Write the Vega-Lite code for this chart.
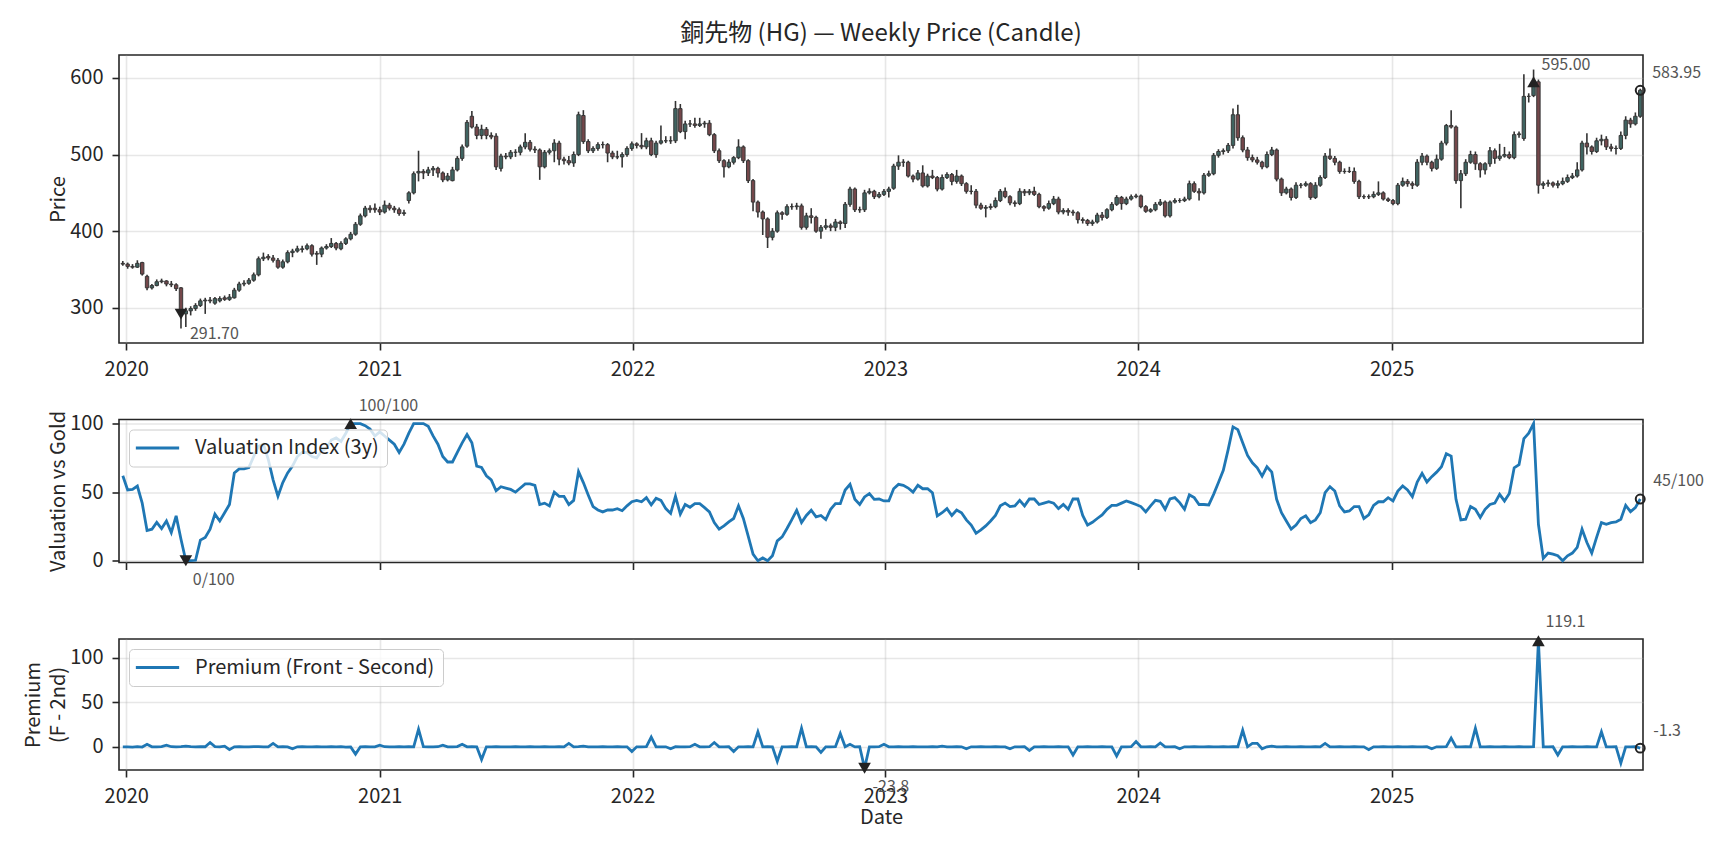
{
  "$schema": "https://vega.github.io/schema/vega-lite/v6.json",
  "padding": {"left": 22, "top": 20, "right": 10, "bottom": 5},
  "background": "white",
  "config": {
    "font": "Noto Sans CJK JP",
    "view": {"stroke": "#262626", "strokeWidth": 1.6},
    "axis": {
      "labelFont": "Noto Sans CJK JP", "labelFontSize": 20, "labelColor": "#262626",
      "titleFont": "Noto Sans CJK JP", "titleFontSize": 20, "titleFontWeight": "normal", "titleColor": "#262626",
      "tickColor": "#262626", "tickWidth": 1.6, "tickSize": 7, "labelPadding": 9,
      "domain": false, "gridColor": "#b0b0b0", "gridOpacity": 0.3, "gridWidth": 1.6, "titlePadding": 1.5
    },
    "legend": {
      "title": null, "orient": "top-left", "offset": 10, "padding": 8,
      "fillColor": "rgba(255,255,255,0.8)", "strokeColor": "#cccccc", "cornerRadius": 4,
      "symbolType": "M-2.5,0H2.5", "symbolSize": 300, "symbolStrokeWidth": 2.8, "symbolOffset": 10,
      "labelFont": "Noto Sans CJK JP", "labelFontSize": 20, "labelOffset": 27, "labelColor": "#262626", "labelLimit": 0
    },
    "title": {"font": "Noto Sans CJK JP", "fontSize": 24, "fontWeight": "normal", "color": "#262626", "offset": 9.5}
  },
  "datasets": {
    "weekly": [
      {"d":"2019-12-27","o":358,"h":361,"l":355,"c":357,"v":62,"p":0.2},
      {"d":"2020-01-03","o":357,"h":359,"l":351,"c":354,"v":51.6,"p":0.1},
      {"d":"2020-01-10","o":354,"h":357,"l":351,"c":353,"v":52,"p":-0.2},
      {"d":"2020-01-17","o":353,"h":362,"l":352,"c":358,"v":54.5,"p":0.3},
      {"d":"2020-01-24","o":359,"h":360,"l":342,"c":344,"v":42,"p":-0.1},
      {"d":"2020-01-31","o":341,"h":343,"l":323,"c":326,"v":22,"p":3},
      {"d":"2020-02-07","o":326,"h":331,"l":324,"c":329,"v":23,"p":0.2},
      {"d":"2020-02-14","o":329,"h":337,"l":328,"c":334,"v":28,"p":0.1},
      {"d":"2020-02-21","o":334,"h":338,"l":332,"c":335,"v":23.5,"p":0.4},
      {"d":"2020-02-28","o":335,"h":336,"l":328,"c":331,"v":29,"p":2},
      {"d":"2020-03-06","o":331,"h":335,"l":327,"c":330,"v":20.6,"p":0.3},
      {"d":"2020-03-13","o":330,"h":332,"l":322,"c":325,"v":32.7,"p":0.2},
      {"d":"2020-03-20","o":326,"h":327,"l":273,"c":291.7,"v":15.7,"p":0.5},
      {"d":"2020-03-27","o":292,"h":300,"l":275,"c":296,"v":0,"p":1},
      {"d":"2020-04-03","o":296,"h":302,"l":290,"c":299,"v":0,"p":0.3},
      {"d":"2020-04-10","o":299,"h":306,"l":296,"c":303,"v":0.3,"p":0.2},
      {"d":"2020-04-17","o":303,"h":312,"l":301,"c":309,"v":15,"p":0.4},
      {"d":"2020-04-24","o":309,"h":313,"l":292,"c":310,"v":17,"p":0.3},
      {"d":"2020-05-01","o":310,"h":314,"l":306,"c":309,"v":23,"p":5},
      {"d":"2020-05-08","o":306,"h":314,"l":304,"c":312,"v":34,"p":0.4},
      {"d":"2020-05-15","o":309,"h":315,"l":307,"c":312,"v":29,"p":0.2},
      {"d":"2020-05-22","o":313,"h":316,"l":309,"c":311,"v":35,"p":1},
      {"d":"2020-05-29","o":311,"h":318,"l":309,"c":314,"v":41,"p":-3},
      {"d":"2020-06-05","o":313,"h":326,"l":312,"c":323,"v":64,"p":0.2},
      {"d":"2020-06-12","o":323,"h":334,"l":321,"c":331,"v":67,"p":0.3},
      {"d":"2020-06-19","o":331,"h":336,"l":328,"c":332,"v":67,"p":0.1},
      {"d":"2020-06-26","o":332,"h":339,"l":330,"c":336,"v":68,"p":0.2},
      {"d":"2020-07-03","o":336,"h":346,"l":334,"c":343,"v":76,"p":0.4},
      {"d":"2020-07-10","o":343,"h":367,"l":341,"c":364,"v":83.5,"p":0.3},
      {"d":"2020-07-17","o":364,"h":372,"l":361,"c":366,"v":85,"p":0.2},
      {"d":"2020-07-24","o":367,"h":370,"l":362,"c":365,"v":74,"p":0.1},
      {"d":"2020-07-31","o":365,"h":369,"l":359,"c":362,"v":59,"p":4},
      {"d":"2020-08-07","o":362,"h":365,"l":351,"c":353,"v":47,"p":0.2},
      {"d":"2020-08-14","o":353,"h":363,"l":351,"c":360,"v":57,"p":0.3},
      {"d":"2020-08-21","o":360,"h":375,"l":358,"c":372,"v":64,"p":0.1},
      {"d":"2020-08-28","o":372,"h":377,"l":366,"c":374,"v":69,"p":-2},
      {"d":"2020-09-04","o":374,"h":381,"l":372,"c":377,"v":76,"p":0.2},
      {"d":"2020-09-11","o":376,"h":381,"l":372,"c":377,"v":79,"p":0.3},
      {"d":"2020-09-18","o":377,"h":384,"l":375,"c":381,"v":79,"p":0.1},
      {"d":"2020-09-25","o":381,"h":383,"l":367,"c":370,"v":76,"p":0.2},
      {"d":"2020-10-02","o":371,"h":374,"l":356,"c":370,"v":75,"p":0.4},
      {"d":"2020-10-09","o":370,"h":380,"l":366,"c":378,"v":80,"p":0.2},
      {"d":"2020-10-16","o":378,"h":383,"l":376,"c":380,"v":82,"p":0.1},
      {"d":"2020-10-23","o":380,"h":391,"l":378,"c":384,"v":88,"p":0.3},
      {"d":"2020-10-30","o":384,"h":386,"l":375,"c":378,"v":89.6,"p":0.2},
      {"d":"2020-11-06","o":377,"h":387,"l":375,"c":384,"v":87,"p":0.4},
      {"d":"2020-11-13","o":384,"h":392,"l":382,"c":390,"v":93,"p":-0.2},
      {"d":"2020-11-20","o":390,"h":399,"l":388,"c":396,"v":100,"p":0.1},
      {"d":"2020-11-27","o":396,"h":412,"l":394,"c":409,"v":100,"p":-8},
      {"d":"2020-12-04","o":409,"h":423,"l":407,"c":420,"v":100,"p":0.2},
      {"d":"2020-12-11","o":420,"h":433,"l":418,"c":430,"v":98.5,"p":0.3},
      {"d":"2020-12-18","o":430,"h":434,"l":424,"c":428,"v":96,"p":0.2},
      {"d":"2020-12-25","o":430,"h":436,"l":424,"c":428,"v":91,"p":0.1},
      {"d":"2021-01-01","o":428,"h":432,"l":421,"c":425,"v":94,"p":2},
      {"d":"2021-01-08","o":425,"h":440,"l":423,"c":434,"v":91,"p":0.3},
      {"d":"2021-01-15","o":434,"h":437,"l":427,"c":430,"v":88,"p":0.1},
      {"d":"2021-01-22","o":430,"h":433,"l":424,"c":428,"v":85,"p":0.2},
      {"d":"2021-01-29","o":428,"h":431,"l":420,"c":423,"v":79,"p":0.3},
      {"d":"2021-02-05","o":423,"h":428,"l":420,"c":424,"v":85,"p":0.1},
      {"d":"2021-02-12","o":440,"h":452,"l":436,"c":450,"v":93,"p":0.4},
      {"d":"2021-02-19","o":450,"h":478,"l":448,"c":475,"v":100,"p":0.2},
      {"d":"2021-02-26","o":476,"h":505,"l":465,"c":478,"v":100,"p":20},
      {"d":"2021-03-05","o":478,"h":481,"l":468,"c":476,"v":100,"p":0.3},
      {"d":"2021-03-12","o":476,"h":484,"l":472,"c":480,"v":98,"p":0.2},
      {"d":"2021-03-19","o":480,"h":485,"l":472,"c":482,"v":91,"p":0.1},
      {"d":"2021-03-26","o":482,"h":484,"l":470,"c":476,"v":85,"p":0.3},
      {"d":"2021-04-02","o":476,"h":478,"l":464,"c":467,"v":76,"p":2},
      {"d":"2021-04-09","o":467,"h":476,"l":465,"c":472,"v":72,"p":0.2},
      {"d":"2021-04-16","o":466,"h":484,"l":465,"c":480,"v":72,"p":0.1},
      {"d":"2021-04-23","o":480,"h":498,"l":478,"c":495,"v":79,"p":0.4},
      {"d":"2021-04-30","o":495,"h":513,"l":492,"c":510,"v":86,"p":3},
      {"d":"2021-05-07","o":511,"h":545,"l":509,"c":542,"v":92,"p":0.2},
      {"d":"2021-05-14","o":550,"h":557,"l":534,"c":536,"v":86,"p":0.3},
      {"d":"2021-05-21","o":536,"h":540,"l":520,"c":525,"v":69,"p":0.2},
      {"d":"2021-05-28","o":525,"h":539,"l":520,"c":533,"v":68,"p":-14},
      {"d":"2021-06-04","o":533,"h":536,"l":520,"c":525,"v":62,"p":0.2},
      {"d":"2021-06-11","o":525,"h":529,"l":520,"c":523,"v":59,"p":0.1},
      {"d":"2021-06-18","o":524,"h":528,"l":480,"c":484,"v":51,"p":0.3},
      {"d":"2021-06-25","o":482,"h":501,"l":478,"c":498,"v":54,"p":0.2},
      {"d":"2021-07-02","o":498,"h":502,"l":494,"c":497,"v":53,"p":0.1},
      {"d":"2021-07-09","o":497,"h":506,"l":494,"c":503,"v":52,"p":0.2},
      {"d":"2021-07-16","o":503,"h":507,"l":497,"c":503,"v":50,"p":0.3},
      {"d":"2021-07-23","o":503,"h":513,"l":499,"c":510,"v":53,"p":0.1},
      {"d":"2021-07-30","o":510,"h":528,"l":507,"c":516,"v":56,"p":0.2},
      {"d":"2021-08-06","o":516,"h":519,"l":504,"c":507,"v":56,"p":0.4},
      {"d":"2021-08-13","o":507,"h":511,"l":502,"c":506,"v":55,"p":0.1},
      {"d":"2021-08-20","o":506,"h":508,"l":467,"c":484,"v":41,"p":0.2},
      {"d":"2021-08-27","o":484,"h":506,"l":482,"c":503,"v":42,"p":0.3},
      {"d":"2021-09-03","o":503,"h":508,"l":500,"c":505,"v":40,"p":0.2},
      {"d":"2021-09-10","o":505,"h":520,"l":490,"c":515,"v":50,"p":0.1},
      {"d":"2021-09-17","o":515,"h":518,"l":486,"c":494,"v":47,"p":0.3},
      {"d":"2021-09-24","o":494,"h":497,"l":487,"c":492,"v":47,"p":0.2},
      {"d":"2021-10-01","o":492,"h":498,"l":486,"c":489,"v":41,"p":4},
      {"d":"2021-10-08","o":489,"h":504,"l":484,"c":500,"v":44,"p":0.2},
      {"d":"2021-10-15","o":500,"h":556,"l":498,"c":552,"v":65,"p":0.3},
      {"d":"2021-10-22","o":551,"h":558,"l":514,"c":517,"v":57,"p":1},
      {"d":"2021-10-29","o":517,"h":520,"l":502,"c":505,"v":48,"p":0.2},
      {"d":"2021-11-05","o":505,"h":511,"l":502,"c":508,"v":39.5,"p":0.1},
      {"d":"2021-11-12","o":508,"h":516,"l":505,"c":513,"v":37,"p":0.2},
      {"d":"2021-11-19","o":513,"h":517,"l":508,"c":513,"v":35.6,"p":0.3},
      {"d":"2021-11-26","o":513,"h":515,"l":490,"c":502,"v":37,"p":0.1},
      {"d":"2021-12-03","o":502,"h":505,"l":494,"c":497,"v":37,"p":0.2},
      {"d":"2021-12-10","o":497,"h":505,"l":494,"c":497,"v":38,"p":0.3},
      {"d":"2021-12-17","o":497,"h":503,"l":483,"c":500,"v":36.5,"p":0.1},
      {"d":"2021-12-24","o":500,"h":511,"l":497,"c":508,"v":40,"p":0.2},
      {"d":"2021-12-31","o":508,"h":517,"l":505,"c":514,"v":43,"p":-5},
      {"d":"2022-01-07","o":514,"h":516,"l":508,"c":512,"v":44,"p":0.2},
      {"d":"2022-01-14","o":512,"h":528,"l":507,"c":510,"v":43,"p":0.1},
      {"d":"2022-01-21","o":510,"h":522,"l":507,"c":518,"v":46,"p":0.3},
      {"d":"2022-01-28","o":518,"h":522,"l":498,"c":500,"v":40.7,"p":11},
      {"d":"2022-02-04","o":500,"h":518,"l":496,"c":515,"v":45.5,"p":0.2},
      {"d":"2022-02-11","o":515,"h":538,"l":513,"c":518,"v":44,"p":0.1},
      {"d":"2022-02-18","o":518,"h":524,"l":515,"c":518,"v":38,"p":0.2},
      {"d":"2022-02-25","o":518,"h":524,"l":514,"c":518,"v":34.6,"p":-2},
      {"d":"2022-03-04","o":518,"h":570,"l":515,"c":560,"v":47,"p":0.3},
      {"d":"2022-03-11","o":560,"h":566,"l":528,"c":530,"v":34,"p":0.2},
      {"d":"2022-03-18","o":530,"h":544,"l":520,"c":540,"v":41,"p":0.1},
      {"d":"2022-03-25","o":540,"h":545,"l":536,"c":540,"v":39,"p":0.3},
      {"d":"2022-04-01","o":540,"h":548,"l":535,"c":538,"v":41.6,"p":3},
      {"d":"2022-04-08","o":538,"h":548,"l":536,"c":540,"v":41.6,"p":0.2},
      {"d":"2022-04-15","o":540,"h":544,"l":535,"c":541,"v":38.7,"p":0.1},
      {"d":"2022-04-22","o":541,"h":545,"l":524,"c":526,"v":35.6,"p":0.3},
      {"d":"2022-04-29","o":526,"h":528,"l":502,"c":505,"v":27.8,"p":5},
      {"d":"2022-05-06","o":505,"h":508,"l":489,"c":492,"v":23,"p":0.2},
      {"d":"2022-05-13","o":492,"h":494,"l":470,"c":484,"v":25.4,"p":0.1},
      {"d":"2022-05-20","o":484,"h":494,"l":482,"c":490,"v":28.3,"p":0.3},
      {"d":"2022-05-27","o":490,"h":498,"l":487,"c":496,"v":30.8,"p":-5},
      {"d":"2022-06-03","o":496,"h":520,"l":494,"c":510,"v":40,"p":0.2},
      {"d":"2022-06-10","o":510,"h":512,"l":489,"c":492,"v":30.8,"p":0.1},
      {"d":"2022-06-17","o":492,"h":494,"l":463,"c":466,"v":18,"p":0.3},
      {"d":"2022-06-24","o":466,"h":468,"l":426,"c":438,"v":4.8,"p":0.2},
      {"d":"2022-07-01","o":438,"h":440,"l":418,"c":425,"v":0,"p":17},
      {"d":"2022-07-08","o":425,"h":427,"l":395,"c":416,"v":2,"p":0.1},
      {"d":"2022-07-15","o":416,"h":418,"l":378,"c":392,"v":0,"p":0.3},
      {"d":"2022-07-22","o":392,"h":404,"l":388,"c":400,"v":3.6,"p":0.2},
      {"d":"2022-07-29","o":400,"h":427,"l":398,"c":424,"v":14.5,"p":-16},
      {"d":"2022-08-05","o":424,"h":426,"l":415,"c":422,"v":17.4,"p":0.2},
      {"d":"2022-08-12","o":422,"h":435,"l":420,"c":432,"v":23.5,"p":0.1},
      {"d":"2022-08-19","o":432,"h":436,"l":428,"c":432,"v":30,"p":0.3},
      {"d":"2022-08-26","o":432,"h":437,"l":428,"c":433,"v":36.8,"p":0.2},
      {"d":"2022-09-02","o":433,"h":436,"l":402,"c":405,"v":27.8,"p":21},
      {"d":"2022-09-09","o":405,"h":424,"l":402,"c":420,"v":33,"p":0.2},
      {"d":"2022-09-16","o":420,"h":430,"l":410,"c":418,"v":36.8,"p":0.3},
      {"d":"2022-09-23","o":418,"h":420,"l":398,"c":400,"v":32,"p":0.1},
      {"d":"2022-09-30","o":400,"h":408,"l":390,"c":405,"v":33,"p":-6},
      {"d":"2022-10-07","o":405,"h":416,"l":402,"c":407,"v":30,"p":0.2},
      {"d":"2022-10-14","o":407,"h":410,"l":400,"c":405,"v":37.5,"p":0.1},
      {"d":"2022-10-21","o":405,"h":416,"l":400,"c":412,"v":41.6,"p":0.3},
      {"d":"2022-10-28","o":412,"h":414,"l":402,"c":410,"v":41.6,"p":15},
      {"d":"2022-11-04","o":410,"h":438,"l":404,"c":435,"v":51.6,"p":0.2},
      {"d":"2022-11-11","o":435,"h":458,"l":432,"c":455,"v":55.7,"p":3},
      {"d":"2022-11-18","o":455,"h":457,"l":425,"c":428,"v":44.8,"p":0.1},
      {"d":"2022-11-25","o":428,"h":432,"l":424,"c":428,"v":41,"p":0.3},
      {"d":"2022-12-02","o":428,"h":454,"l":425,"c":450,"v":46.5,"p":-23.8},
      {"d":"2022-12-09","o":450,"h":456,"l":448,"c":452,"v":49,"p":0.2},
      {"d":"2022-12-16","o":452,"h":454,"l":442,"c":445,"v":44.8,"p":0.1},
      {"d":"2022-12-23","o":445,"h":451,"l":443,"c":448,"v":45,"p":0.3},
      {"d":"2022-12-30","o":448,"h":455,"l":446,"c":452,"v":43.6,"p":3},
      {"d":"2023-01-06","o":452,"h":458,"l":444,"c":455,"v":43.6,"p":0.2},
      {"d":"2023-01-13","o":456,"h":488,"l":454,"c":485,"v":52.5,"p":0.1},
      {"d":"2023-01-20","o":485,"h":499,"l":480,"c":490,"v":55.7,"p":0.3},
      {"d":"2023-01-27","o":490,"h":494,"l":484,"c":490,"v":55,"p":0.2},
      {"d":"2023-02-03","o":490,"h":492,"l":470,"c":472,"v":53,"p":0.1},
      {"d":"2023-02-10","o":472,"h":474,"l":464,"c":468,"v":50,"p":0.3},
      {"d":"2023-02-17","o":468,"h":480,"l":466,"c":476,"v":55,"p":0.2},
      {"d":"2023-02-24","o":476,"h":486,"l":457,"c":459,"v":52.5,"p":0.1},
      {"d":"2023-03-03","o":459,"h":475,"l":457,"c":472,"v":52.5,"p":0.2},
      {"d":"2023-03-10","o":472,"h":480,"l":468,"c":470,"v":49.6,"p":0.3},
      {"d":"2023-03-17","o":470,"h":472,"l":452,"c":455,"v":32.7,"p":0.1},
      {"d":"2023-03-24","o":455,"h":474,"l":453,"c":470,"v":35,"p":1},
      {"d":"2023-03-31","o":470,"h":477,"l":468,"c":474,"v":38,"p":0.2},
      {"d":"2023-04-07","o":474,"h":476,"l":460,"c":465,"v":33,"p":0.1},
      {"d":"2023-04-14","o":465,"h":480,"l":462,"c":472,"v":37,"p":0.3},
      {"d":"2023-04-21","o":472,"h":474,"l":459,"c":462,"v":35,"p":0.2},
      {"d":"2023-04-28","o":462,"h":464,"l":449,"c":452,"v":29.8,"p":-2},
      {"d":"2023-05-05","o":452,"h":460,"l":448,"c":452,"v":26,"p":0.2},
      {"d":"2023-05-12","o":452,"h":455,"l":430,"c":434,"v":20,"p":0.1},
      {"d":"2023-05-19","o":434,"h":437,"l":428,"c":430,"v":22.5,"p":0.3},
      {"d":"2023-05-26","o":430,"h":434,"l":418,"c":431,"v":25.4,"p":0.2},
      {"d":"2023-06-02","o":431,"h":436,"l":428,"c":432,"v":29,"p":0.1},
      {"d":"2023-06-09","o":432,"h":444,"l":430,"c":440,"v":33,"p":0.3},
      {"d":"2023-06-16","o":440,"h":455,"l":438,"c":452,"v":40,"p":0.2},
      {"d":"2023-06-23","o":452,"h":457,"l":443,"c":445,"v":42,"p":0.1},
      {"d":"2023-06-30","o":445,"h":447,"l":434,"c":437,"v":39.5,"p":-2},
      {"d":"2023-07-07","o":437,"h":440,"l":432,"c":436,"v":40,"p":0.2},
      {"d":"2023-07-14","o":436,"h":456,"l":434,"c":452,"v":44,"p":0.1},
      {"d":"2023-07-21","o":452,"h":455,"l":446,"c":450,"v":40,"p":0.3},
      {"d":"2023-07-28","o":450,"h":455,"l":447,"c":452,"v":45,"p":-4},
      {"d":"2023-08-04","o":452,"h":458,"l":446,"c":448,"v":45,"p":0.2},
      {"d":"2023-08-11","o":448,"h":450,"l":430,"c":432,"v":41,"p":0.1},
      {"d":"2023-08-18","o":432,"h":434,"l":426,"c":430,"v":42,"p":0.3},
      {"d":"2023-08-25","o":430,"h":440,"l":428,"c":436,"v":43,"p":0.2},
      {"d":"2023-09-01","o":436,"h":446,"l":434,"c":442,"v":42,"p":0.1},
      {"d":"2023-09-08","o":442,"h":445,"l":422,"c":425,"v":38,"p":0.3},
      {"d":"2023-09-15","o":425,"h":430,"l":422,"c":427,"v":41,"p":0.2},
      {"d":"2023-09-22","o":427,"h":430,"l":420,"c":425,"v":37.5,"p":0.1},
      {"d":"2023-09-29","o":425,"h":428,"l":420,"c":424,"v":45,"p":-9},
      {"d":"2023-10-06","o":424,"h":426,"l":410,"c":415,"v":45,"p":0.2},
      {"d":"2023-10-13","o":415,"h":418,"l":410,"c":414,"v":33,"p":0.1},
      {"d":"2023-10-20","o":414,"h":416,"l":407,"c":410,"v":26,"p":0.3},
      {"d":"2023-10-27","o":410,"h":415,"l":407,"c":412,"v":28,"p":0.2},
      {"d":"2023-11-03","o":412,"h":424,"l":410,"c":421,"v":30.8,"p":0.1},
      {"d":"2023-11-10","o":421,"h":425,"l":414,"c":418,"v":33.4,"p":0.3},
      {"d":"2023-11-17","o":418,"h":430,"l":416,"c":428,"v":37.5,"p":0.2},
      {"d":"2023-11-24","o":428,"h":438,"l":426,"c":435,"v":40.4,"p":0.1},
      {"d":"2023-12-01","o":435,"h":447,"l":433,"c":444,"v":40.4,"p":-10},
      {"d":"2023-12-08","o":444,"h":446,"l":428,"c":436,"v":42,"p":0.2},
      {"d":"2023-12-15","o":436,"h":445,"l":434,"c":442,"v":43.6,"p":0.1},
      {"d":"2023-12-22","o":442,"h":448,"l":440,"c":445,"v":42.4,"p":0.3},
      {"d":"2023-12-29","o":445,"h":449,"l":443,"c":446,"v":41,"p":6},
      {"d":"2024-01-05","o":446,"h":448,"l":430,"c":432,"v":39.5,"p":0.2},
      {"d":"2024-01-12","o":432,"h":434,"l":424,"c":426,"v":35.6,"p":0.1},
      {"d":"2024-01-19","o":426,"h":430,"l":424,"c":428,"v":40,"p":0.3},
      {"d":"2024-01-26","o":428,"h":438,"l":426,"c":435,"v":44,"p":0.2},
      {"d":"2024-02-02","o":435,"h":442,"l":433,"c":438,"v":43.3,"p":4.5},
      {"d":"2024-02-09","o":438,"h":440,"l":418,"c":420,"v":37.5,"p":0.2},
      {"d":"2024-02-16","o":420,"h":440,"l":418,"c":438,"v":45,"p":0.1},
      {"d":"2024-02-23","o":438,"h":443,"l":436,"c":440,"v":46,"p":0.3},
      {"d":"2024-03-01","o":440,"h":443,"l":437,"c":440,"v":42.4,"p":-2},
      {"d":"2024-03-08","o":440,"h":445,"l":438,"c":442,"v":37.5,"p":0.2},
      {"d":"2024-03-15","o":442,"h":466,"l":440,"c":462,"v":48,"p":0.1},
      {"d":"2024-03-22","o":462,"h":465,"l":450,"c":452,"v":46,"p":0.3},
      {"d":"2024-03-29","o":452,"h":456,"l":440,"c":450,"v":41,"p":0.2},
      {"d":"2024-04-05","o":450,"h":476,"l":448,"c":473,"v":41,"p":0.1},
      {"d":"2024-04-12","o":473,"h":479,"l":471,"c":475,"v":40.7,"p":0.3},
      {"d":"2024-04-19","o":475,"h":502,"l":473,"c":499,"v":48.4,"p":0.2},
      {"d":"2024-04-26","o":499,"h":507,"l":496,"c":504,"v":57,"p":0.1},
      {"d":"2024-05-03","o":504,"h":508,"l":500,"c":505,"v":66,"p":0.3},
      {"d":"2024-05-10","o":505,"h":515,"l":502,"c":512,"v":81,"p":0.2},
      {"d":"2024-05-17","o":512,"h":560,"l":508,"c":552,"v":97.6,"p":0.4},
      {"d":"2024-05-24","o":552,"h":565,"l":518,"c":522,"v":95.6,"p":0.3},
      {"d":"2024-05-31","o":522,"h":525,"l":503,"c":506,"v":86,"p":18.7},
      {"d":"2024-06-07","o":506,"h":510,"l":492,"c":496,"v":76.8,"p":0.2},
      {"d":"2024-06-14","o":496,"h":500,"l":490,"c":493,"v":71.4,"p":4},
      {"d":"2024-06-21","o":493,"h":497,"l":487,"c":490,"v":67.8,"p":4},
      {"d":"2024-06-28","o":490,"h":492,"l":481,"c":484,"v":61.7,"p":-2},
      {"d":"2024-07-05","o":484,"h":504,"l":482,"c":500,"v":68.5,"p":0.2},
      {"d":"2024-07-12","o":500,"h":510,"l":498,"c":506,"v":64.6,"p":1},
      {"d":"2024-07-19","o":506,"h":508,"l":465,"c":468,"v":44.8,"p":0.2},
      {"d":"2024-07-26","o":468,"h":470,"l":446,"c":450,"v":35,"p":0.1},
      {"d":"2024-08-02","o":450,"h":458,"l":448,"c":455,"v":29,"p":0.3},
      {"d":"2024-08-09","o":455,"h":457,"l":440,"c":444,"v":23,"p":0.2},
      {"d":"2024-08-16","o":444,"h":464,"l":442,"c":460,"v":26,"p":0.1},
      {"d":"2024-08-23","o":460,"h":463,"l":456,"c":460,"v":30.8,"p":0.3},
      {"d":"2024-08-30","o":460,"h":465,"l":458,"c":462,"v":32.7,"p":0.2},
      {"d":"2024-09-06","o":462,"h":464,"l":441,"c":444,"v":27.8,"p":0.1},
      {"d":"2024-09-13","o":444,"h":464,"l":442,"c":460,"v":29.8,"p":0.3},
      {"d":"2024-09-20","o":460,"h":473,"l":458,"c":470,"v":35,"p":0.2},
      {"d":"2024-09-27","o":470,"h":502,"l":468,"c":498,"v":49.6,"p":4},
      {"d":"2024-10-04","o":498,"h":508,"l":493,"c":495,"v":54,"p":0.2},
      {"d":"2024-10-11","o":495,"h":498,"l":486,"c":490,"v":50.8,"p":0.1},
      {"d":"2024-10-18","o":490,"h":492,"l":475,"c":478,"v":40,"p":0.3},
      {"d":"2024-10-25","o":478,"h":482,"l":475,"c":478,"v":35.6,"p":0.2},
      {"d":"2024-11-01","o":478,"h":484,"l":476,"c":478,"v":36.3,"p":0.1},
      {"d":"2024-11-08","o":478,"h":483,"l":462,"c":465,"v":39.5,"p":0.3},
      {"d":"2024-11-15","o":465,"h":467,"l":442,"c":445,"v":39.5,"p":0.2},
      {"d":"2024-11-22","o":445,"h":448,"l":442,"c":445,"v":30.8,"p":0.1},
      {"d":"2024-11-29","o":445,"h":448,"l":442,"c":445,"v":33.4,"p":-3},
      {"d":"2024-12-06","o":445,"h":452,"l":443,"c":448,"v":40.4,"p":0.2},
      {"d":"2024-12-13","o":448,"h":465,"l":446,"c":450,"v":43,"p":0.1},
      {"d":"2024-12-20","o":450,"h":452,"l":440,"c":442,"v":43,"p":0.3},
      {"d":"2024-12-27","o":442,"h":444,"l":438,"c":440,"v":46,"p":0.2},
      {"d":"2025-01-03","o":440,"h":442,"l":434,"c":436,"v":43.6,"p":0.1},
      {"d":"2025-01-10","o":436,"h":463,"l":434,"c":460,"v":50.8,"p":0.3},
      {"d":"2025-01-17","o":460,"h":470,"l":458,"c":465,"v":54.5,"p":0.2},
      {"d":"2025-01-24","o":465,"h":468,"l":458,"c":462,"v":51.6,"p":0.1},
      {"d":"2025-01-31","o":462,"h":465,"l":455,"c":460,"v":46.7,"p":0.3},
      {"d":"2025-02-07","o":460,"h":494,"l":458,"c":490,"v":57.4,"p":0.2},
      {"d":"2025-02-14","o":490,"h":502,"l":486,"c":498,"v":63.7,"p":0.1},
      {"d":"2025-02-21","o":498,"h":500,"l":486,"c":490,"v":57.4,"p":0.3},
      {"d":"2025-02-28","o":490,"h":492,"l":478,"c":482,"v":61.3,"p":-2},
      {"d":"2025-03-07","o":482,"h":500,"l":480,"c":494,"v":64.6,"p":0.2},
      {"d":"2025-03-14","o":494,"h":518,"l":492,"c":515,"v":68.5,"p":0.1},
      {"d":"2025-03-21","o":515,"h":540,"l":512,"c":538,"v":78,"p":0.3},
      {"d":"2025-03-28","o":538,"h":558,"l":534,"c":536,"v":76.3,"p":10},
      {"d":"2025-04-04","o":536,"h":538,"l":462,"c":466,"v":44.8,"p":0.2},
      {"d":"2025-04-11","o":466,"h":480,"l":430,"c":475,"v":29.8,"p":0.1},
      {"d":"2025-04-18","o":475,"h":494,"l":472,"c":490,"v":30.3,"p":0.3},
      {"d":"2025-04-25","o":490,"h":505,"l":488,"c":500,"v":39.5,"p":0.2},
      {"d":"2025-05-02","o":500,"h":504,"l":480,"c":488,"v":37.5,"p":21},
      {"d":"2025-05-09","o":488,"h":490,"l":470,"c":480,"v":31.5,"p":0.2},
      {"d":"2025-05-16","o":480,"h":490,"l":474,"c":488,"v":37.5,"p":0.1},
      {"d":"2025-05-23","o":488,"h":510,"l":484,"c":505,"v":41,"p":0.3},
      {"d":"2025-05-30","o":505,"h":508,"l":488,"c":495,"v":42,"p":0.2},
      {"d":"2025-06-06","o":495,"h":514,"l":492,"c":498,"v":48.4,"p":0.1},
      {"d":"2025-06-13","o":498,"h":510,"l":496,"c":500,"v":43.6,"p":0.3},
      {"d":"2025-06-20","o":500,"h":504,"l":494,"c":496,"v":49,"p":0.2},
      {"d":"2025-06-27","o":496,"h":530,"l":494,"c":526,"v":67.8,"p":0.1},
      {"d":"2025-07-04","o":526,"h":530,"l":522,"c":527,"v":70,"p":0.3},
      {"d":"2025-07-11","o":521,"h":605,"l":518,"c":576,"v":89,"p":0.2},
      {"d":"2025-07-18","o":576,"h":580,"l":568,"c":576,"v":93,"p":0.1},
      {"d":"2025-07-25","o":577,"h":611,"l":575,"c":595,"v":100,"p":0.3},
      {"d":"2025-08-01","o":595,"h":598,"l":449,"c":460,"v":26.6,"p":119.1},
      {"d":"2025-08-08","o":460,"h":465,"l":455,"c":462,"v":1.7,"p":0.2},
      {"d":"2025-08-15","o":462,"h":467,"l":458,"c":463,"v":5.6,"p":0.1},
      {"d":"2025-08-22","o":463,"h":465,"l":457,"c":460,"v":4.8,"p":0.3},
      {"d":"2025-08-29","o":460,"h":466,"l":456,"c":462,"v":3.6,"p":-9},
      {"d":"2025-09-05","o":462,"h":470,"l":460,"c":465,"v":0,"p":0.2},
      {"d":"2025-09-12","o":465,"h":474,"l":463,"c":470,"v":3.6,"p":0.1},
      {"d":"2025-09-19","o":470,"h":476,"l":468,"c":472,"v":5.6,"p":0.3},
      {"d":"2025-09-26","o":472,"h":490,"l":470,"c":480,"v":9.7,"p":0.2},
      {"d":"2025-10-03","o":480,"h":518,"l":478,"c":515,"v":23,"p":0.1},
      {"d":"2025-10-10","o":515,"h":528,"l":500,"c":510,"v":13.3,"p":0.3},
      {"d":"2025-10-17","o":510,"h":512,"l":500,"c":504,"v":5.6,"p":0.2},
      {"d":"2025-10-24","o":504,"h":522,"l":502,"c":518,"v":17,"p":0.1},
      {"d":"2025-10-31","o":518,"h":526,"l":512,"c":520,"v":27.8,"p":17},
      {"d":"2025-11-07","o":520,"h":524,"l":506,"c":510,"v":26.6,"p":0.2},
      {"d":"2025-11-14","o":510,"h":514,"l":504,"c":508,"v":27.8,"p":0.1},
      {"d":"2025-11-21","o":508,"h":512,"l":500,"c":508,"v":28.3,"p":0.3},
      {"d":"2025-11-28","o":508,"h":530,"l":506,"c":525,"v":30.3,"p":-18},
      {"d":"2025-12-05","o":525,"h":550,"l":520,"c":545,"v":40.4,"p":0.2},
      {"d":"2025-12-12","o":545,"h":548,"l":535,"c":540,"v":35.8,"p":0.1},
      {"d":"2025-12-19","o":540,"h":555,"l":538,"c":550,"v":38.7,"p":0.3},
      {"d":"2025-12-26","o":550,"h":586,"l":548,"c":583.95,"v":45,"p":-1.3}
    ],
    "notes": [
      {"panel":"price","kind":"min","d":"2020-03-20","y":291.7,"label":"291.70"},
      {"panel":"price","kind":"max","d":"2025-07-25","y":595,"label":"595.00"},
      {"panel":"price","kind":"last","d":"2025-12-26","y":583.95,"label":"583.95"},
      {"panel":"val","kind":"max","d":"2020-11-20","y":100,"label":"100/100"},
      {"panel":"val","kind":"min","d":"2020-03-27","y":0,"label":"0/100"},
      {"panel":"val","kind":"last","d":"2025-12-26","y":45,"label":"45/100"},
      {"panel":"prem","kind":"max","d":"2025-08-01","y":119.1,"label":"119.1"},
      {"panel":"prem","kind":"min","d":"2022-12-02","y":-23.8,"label":"-23.8"},
      {"panel":"prem","kind":"last","d":"2025-12-26","y":-1.3,"label":"-1.3"}
    ],
    "levels": [{"lvl": 15}, {"lvl": 75}]
  },
  "bounds": "flush",
  "spacing": 76.5,
  "resolve": {"scale": {"x": "independent", "y": "independent", "color": "independent"}},
  "vconcat": [
    {
      "title": "銅先物 (HG) — Weekly Price (Candle)",
      "width": 1524,
      "height": 288,
      "encoding": {
        "x": {
          "field": "d", "type": "temporal",
          "scale": {"domain": ["2019-12-21T12:00:00", "2025-12-30T00:00:00"], "nice": false, "padding": 0},
          "axis": {"format": "%Y", "tickCount": "year", "title": null, "grid": true}
        }
      },
      "layer": [
        {
          "data": {"name": "weekly"},
          "mark": {"type": "rule", "color": "#333333", "strokeWidth": 1.6},
          "encoding": {
            "y": {"field": "l", "type": "quantitative", "title": "Price",
                  "scale": {"domain": [254, 630], "nice": false, "zero": false},
                  "axis": {"values": [300, 400, 500, 600]}},
            "y2": {"field": "h"}
          }
        },
        {
          "data": {"name": "weekly"},
          "mark": {"type": "bar", "width": 3.4, "stroke": "#383838", "strokeWidth": 1},
          "encoding": {
            "y": {"field": "o", "type": "quantitative", "title": "Price"},
            "y2": {"field": "c"},
            "fill": {"condition": {"test": "datum.c >= datum.o", "value": "#3f6461"}, "value": "#74474a"}
          }
        },
        {
          "data": {"name": "notes"},
          "transform": [{"filter": "datum.panel == 'price' && datum.kind == 'min'"}],
          "mark": {"type": "point", "shape": "triangle-down", "filled": true, "color": "#222222", "size": 160, "opacity": 1},
          "encoding": {"y": {"field": "y", "type": "quantitative", "title": "Price"}}
        },
        {
          "data": {"name": "notes"},
          "transform": [{"filter": "datum.panel == 'price' && datum.kind == 'max'"}],
          "mark": {"type": "point", "shape": "triangle-up", "filled": true, "color": "#222222", "size": 160, "opacity": 1},
          "encoding": {"y": {"field": "y", "type": "quantitative", "title": "Price"}}
        },
        {
          "data": {"name": "notes"},
          "transform": [{"filter": "datum.panel == 'price' && datum.kind == 'last'"}],
          "mark": {"type": "point", "shape": "circle", "filled": false, "stroke": "#222222", "strokeWidth": 2, "size": 80, "opacity": 1},
          "encoding": {"y": {"field": "y", "type": "quantitative", "title": "Price"}}
        },
        {
          "data": {"name": "notes"},
          "transform": [{"filter": "datum.panel == 'price' && datum.kind == 'min'"}],
          "mark": {"type": "text", "align": "left", "baseline": "middle", "dx": 9, "dy": 20, "fontSize": 16, "color": "#555555"},
          "encoding": {"y": {"field": "y", "type": "quantitative", "title": "Price"}, "text": {"field": "label"}}
        },
        {
          "data": {"name": "notes"},
          "transform": [{"filter": "datum.panel == 'price' && datum.kind == 'max'"}],
          "mark": {"type": "text", "align": "left", "baseline": "middle", "dx": 8, "dy": -17, "fontSize": 16, "color": "#555555"},
          "encoding": {"y": {"field": "y", "type": "quantitative", "title": "Price"}, "text": {"field": "label"}}
        },
        {
          "data": {"name": "notes"},
          "transform": [{"filter": "datum.panel == 'price' && datum.kind == 'last'"}],
          "mark": {"type": "text", "align": "left", "baseline": "middle", "dx": 12, "dy": -17, "fontSize": 16, "color": "#555555"},
          "encoding": {"y": {"field": "y", "type": "quantitative", "title": "Price"}, "text": {"field": "label"}}
        }
      ]
    },
    {
      "width": 1524,
      "height": 143,
      "encoding": {
        "x": {
          "field": "d", "type": "temporal",
          "scale": {"domain": ["2019-12-21T12:00:00", "2025-12-30T00:00:00"], "nice": false, "padding": 0},
          "axis": {"format": "%Y", "tickCount": "year", "title": null, "labels": false, "grid": true}
        }
      },
      "layer": [
        {
          "data": {"name": "levels"},
          "mark": {"type": "rule", "color": "#808080", "strokeDash": [7.4, 3.2], "strokeWidth": 2, "opacity": 0.85},
          "encoding": {
            "y": {"field": "lvl", "type": "quantitative", "title": "Valuation vs Gold",
                  "scale": {"domain": [-1.3, 103], "nice": false, "zero": false},
                  "axis": {"values": [0, 15, 50, 75, 100]}}
          }
        },
        {
          "data": {"name": "weekly"},
          "mark": {"type": "line", "strokeWidth": 2.8},
          "encoding": {
            "y": {"field": "v", "type": "quantitative", "title": "Valuation vs Gold"},
            "color": {"datum": "Valuation Index (3y)", "type": "nominal", "scale": {"range": ["#1f77b4"]}}
          }
        },
        {
          "data": {"name": "notes"},
          "transform": [{"filter": "datum.panel == 'val' && datum.kind == 'min'"}],
          "mark": {"type": "point", "shape": "triangle-down", "filled": true, "color": "#222222", "size": 160, "opacity": 1},
          "encoding": {"y": {"field": "y", "type": "quantitative", "title": "Valuation vs Gold"}}
        },
        {
          "data": {"name": "notes"},
          "transform": [{"filter": "datum.panel == 'val' && datum.kind == 'max'"}],
          "mark": {"type": "point", "shape": "triangle-up", "filled": true, "color": "#222222", "size": 160, "opacity": 1},
          "encoding": {"y": {"field": "y", "type": "quantitative", "title": "Valuation vs Gold"}}
        },
        {
          "data": {"name": "notes"},
          "transform": [{"filter": "datum.panel == 'val' && datum.kind == 'last'"}],
          "mark": {"type": "point", "shape": "circle", "filled": false, "stroke": "#222222", "strokeWidth": 2, "size": 80, "opacity": 1},
          "encoding": {"y": {"field": "y", "type": "quantitative", "title": "Valuation vs Gold"}}
        },
        {
          "data": {"name": "notes"},
          "transform": [{"filter": "datum.panel == 'val' && datum.kind == 'min'"}],
          "mark": {"type": "text", "align": "left", "baseline": "middle", "dx": 7, "dy": 19, "fontSize": 16, "color": "#555555"},
          "encoding": {"y": {"field": "y", "type": "quantitative", "title": "Valuation vs Gold"}, "text": {"field": "label"}}
        },
        {
          "data": {"name": "notes"},
          "transform": [{"filter": "datum.panel == 'val' && datum.kind == 'max'"}],
          "mark": {"type": "text", "align": "left", "baseline": "middle", "dx": 8, "dy": -18, "fontSize": 16, "color": "#555555"},
          "encoding": {"y": {"field": "y", "type": "quantitative", "title": "Valuation vs Gold"}, "text": {"field": "label"}}
        },
        {
          "data": {"name": "notes"},
          "transform": [{"filter": "datum.panel == 'val' && datum.kind == 'last'"}],
          "mark": {"type": "text", "align": "left", "baseline": "middle", "dx": 13, "dy": -18, "fontSize": 16, "color": "#555555"},
          "encoding": {"y": {"field": "y", "type": "quantitative", "title": "Valuation vs Gold"}, "text": {"field": "label"}}
        }
      ]
    },
    {
      "width": 1524,
      "height": 131,
      "encoding": {
        "x": {
          "field": "d", "type": "temporal",
          "scale": {"domain": ["2019-12-21T12:00:00", "2025-12-30T00:00:00"], "nice": false, "padding": 0},
          "axis": {"format": "%Y", "tickCount": "year", "title": "Date", "grid": true}
        }
      },
      "layer": [
        {
          "data": {"name": "weekly"},
          "mark": {"type": "line", "strokeWidth": 2.8},
          "encoding": {
            "y": {"field": "p", "type": "quantitative", "title": ["Premium", "(F - 2nd)"],
                  "scale": {"domain": [-25.8, 121.1], "nice": false, "zero": false},
                  "axis": {"values": [0, 50, 100], "titleLineHeight": 24.5}},
            "color": {"datum": "Premium (Front - Second)", "type": "nominal", "scale": {"range": ["#1f77b4"]}}
          }
        },
        {
          "data": {"name": "notes"},
          "transform": [{"filter": "datum.panel == 'prem' && datum.kind == 'min'"}],
          "mark": {"type": "point", "shape": "triangle-down", "filled": true, "color": "#222222", "size": 160, "opacity": 1},
          "encoding": {"y": {"field": "y", "type": "quantitative", "title": ["Premium", "(F - 2nd)"]}}
        },
        {
          "data": {"name": "notes"},
          "transform": [{"filter": "datum.panel == 'prem' && datum.kind == 'max'"}],
          "mark": {"type": "point", "shape": "triangle-up", "filled": true, "color": "#222222", "size": 160, "opacity": 1},
          "encoding": {"y": {"field": "y", "type": "quantitative", "title": ["Premium", "(F - 2nd)"]}}
        },
        {
          "data": {"name": "notes"},
          "transform": [{"filter": "datum.panel == 'prem' && datum.kind == 'last'"}],
          "mark": {"type": "point", "shape": "circle", "filled": false, "stroke": "#222222", "strokeWidth": 2, "size": 80, "opacity": 1},
          "encoding": {"y": {"field": "y", "type": "quantitative", "title": ["Premium", "(F - 2nd)"]}}
        },
        {
          "data": {"name": "notes"},
          "transform": [{"filter": "datum.panel == 'prem' && datum.kind == 'min'"}],
          "mark": {"type": "text", "align": "left", "baseline": "middle", "dx": 8, "dy": 19, "fontSize": 16, "color": "#555555"},
          "encoding": {"y": {"field": "y", "type": "quantitative", "title": ["Premium", "(F - 2nd)"]}, "text": {"field": "label"}}
        },
        {
          "data": {"name": "notes"},
          "transform": [{"filter": "datum.panel == 'prem' && datum.kind == 'max'"}],
          "mark": {"type": "text", "align": "left", "baseline": "middle", "dx": 7, "dy": -19, "fontSize": 16, "color": "#555555"},
          "encoding": {"y": {"field": "y", "type": "quantitative", "title": ["Premium", "(F - 2nd)"]}, "text": {"field": "label"}}
        },
        {
          "data": {"name": "notes"},
          "transform": [{"filter": "datum.panel == 'prem' && datum.kind == 'last'"}],
          "mark": {"type": "text", "align": "left", "baseline": "middle", "dx": 13, "dy": -17, "fontSize": 16, "color": "#555555"},
          "encoding": {"y": {"field": "y", "type": "quantitative", "title": ["Premium", "(F - 2nd)"]}, "text": {"field": "label"}}
        }
      ]
    }
  ]
}
